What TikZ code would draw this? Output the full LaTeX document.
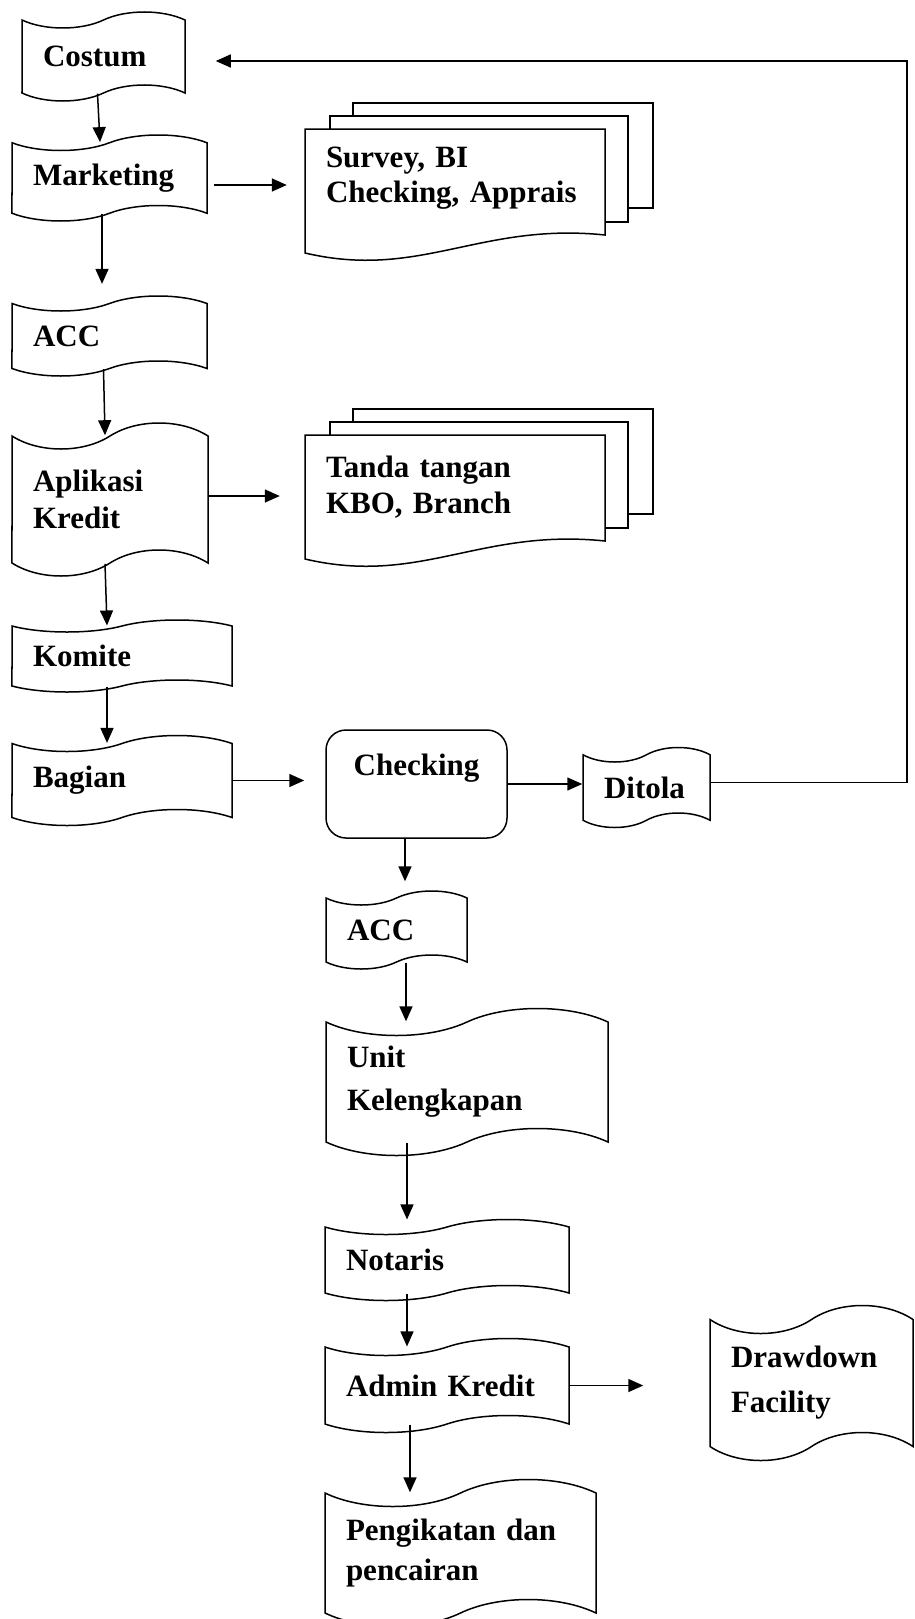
\documentclass[tikz,border=0pt]{standalone}
\usepackage{fontspec}
\setmainfont{Liberation Serif}
\usetikzlibrary{arrows.meta, shapes.symbols}

\tikzset{
  tapebox/.style={tape, draw, line width=1.5pt, align=left,
    inner xsep=21pt, inner ysep=0pt,
    font=\fontsize{31}{37}\selectfont\bfseries},
  procbox/.style={rectangle, draw, line width=1.5pt, rounded corners=20pt,
    font=\fontsize{31}{37}\selectfont\bfseries},
  notebox/.style={rectangle, align=left, inner xsep=21pt,
    font=\fontsize{31}{37}\selectfont\bfseries},
  sheet/.style={draw, line width=1.5pt, fill=white},
  arr/.style={-{Triangle[length=15pt,width=13pt]}, line width=1.5pt}
}

\begin{document}
\begin{tikzpicture}[x=1pt, y=-1pt]
  \useasboundingbox (0,0) rectangle (915,1619);

  % stacked sheets of the two side notes
  \foreach \dy in {0,306}{
    \begin{scope}[shift={(0,\dy)}]
      \draw[sheet] (353,103) rectangle (653,208);
      \draw[sheet] (330,116) rectangle (628,222);
      \draw[sheet] (305,129) -- (605,129) -- (605,235)
        .. controls (480,222) and (420,280) .. (305,253) -- cycle;
    \end{scope}
  }
  \node[notebox, text width=258pt] (survey) at (455,178.5) {Survey, BI\\[-2pt]Checking, Apprais};
  \node[notebox, text width=258pt] (tanda) at (455,487) {Tanda tangan\\[-1pt]KBO, Branch};

  % left column
  \node[tapebox, text width=121pt, minimum height=89pt, tape bend height=16pt] (costum) at (103.5,56.5) {Costum};
  \node[tapebox, text width=153pt, minimum height=86pt, tape bend height=15.5pt] (marketing) at (109.5,178) {Marketing};
  \node[tapebox, text width=153pt, minimum height=80pt, tape bend height=15pt] (acca) at (109.5,336) {ACC};
  \node[tapebox, text width=154pt, minimum height=153pt, tape bend height=26pt] (aplikasi) at (110,499.5) {Aplikasi\\Kredit};
  \node[tapebox, text width=178pt, minimum height=72pt, tape bend height=12pt] (komite) at (122,656) {Komite};
  \node[tapebox, text width=178pt, minimum height=90pt, tape bend height=16pt] (bagian) at (122,780.5) {Bagian};

  % checking and rejection
  \node[procbox, minimum width=181pt, minimum height=108pt, text depth=39pt] (checking) at (416.5,784) {Checking};
  \node[tapebox, text width=85pt, minimum height=80pt, tape bend height=14.5pt] (ditola) at (646.5,787.5) {Ditola};

  % lower column
  \node[tapebox, text width=99pt, minimum height=78pt, tape bend height=14pt] (accb) at (396.5,930) {ACC};
  \node[tapebox, text width=240pt, minimum height=147pt, tape bend height=27pt] (unit) at (467,1082) {Unit\\[6pt]Kelengkapan};
  \node[tapebox, text width=202pt, minimum height=81pt, tape bend height=15pt] (notaris) at (447,1260) {Notaris};
  \node[tapebox, text width=202pt, minimum height=94pt, tape bend height=17pt] (admin) at (447,1385.5) {Admin Kredit};
  \node[tapebox, text width=161pt, minimum height=155pt, tape bend height=28pt] (drawdown) at (811.5,1383) {Drawdown\\[8pt]Facility};
  \node[tapebox, text width=229pt, minimum height=147pt, tape bend height=27pt] (pengikatan) at (460.5,1553) {Pengikatan dan\\[3pt]pencairan};

  \coordinate (back) at (907,61);

  % connectors
  \draw[arr] ([xshift=-6pt]costum.south) -- ([xshift=-9.5pt]marketing.north);
  \draw[arr, shorten >=19pt] ([xshift=-7.5pt]marketing.south) -- ([xshift=-7.5pt]acca.north);
  \draw[arr, shorten <=6pt, shorten >=18pt] ([yshift=-7pt]marketing.east) -- ([yshift=-7pt]marketing.east -| survey.west);
  \draw[arr] ([xshift=-6pt]acca.south) -- ([xshift=-5pt]aplikasi.north);
  \draw[arr, shorten >=25pt] ([yshift=3.5pt]aplikasi.east) -- ([yshift=3.5pt]aplikasi.east -| tanda.west);
  \draw[arr] ([xshift=-5pt]aplikasi.south) -- ([xshift=-15pt]komite.north);
  \draw[arr] ([xshift=-15pt]komite.south) -- ([xshift=-15pt]bagian.north);
  \draw[arr, shorten >=21pt] (bagian.east) -- (bagian.east -| checking.west);
  \draw[arr] (checking.east) -- (checking.east -| ditola.west);
  \draw[arr, shorten >=30pt] ([yshift=5pt]ditola.east) -| (back) -- (back -| costum.east);
  \draw[arr, shorten >=16pt] ([xshift=-11.5pt]checking.south) -- ([xshift=8.5pt]accb.north);
  \draw[arr] ([xshift=9.5pt]accb.south) -- ([xshift=-61pt]unit.north);
  \draw[arr, shorten >=7pt] ([xshift=-60pt]unit.south) -- ([xshift=-40pt]notaris.north);
  \draw[arr] ([xshift=-40pt]notaris.south) -- ([xshift=-40pt]admin.north);
  \draw[arr, shorten >=66pt] (admin.east) -- (admin.east -| drawdown.west);
  \draw[arr] ([xshift=-37pt]admin.south) -- ([xshift=-50.5pt]pengikatan.north);
\end{tikzpicture}
\end{document}
